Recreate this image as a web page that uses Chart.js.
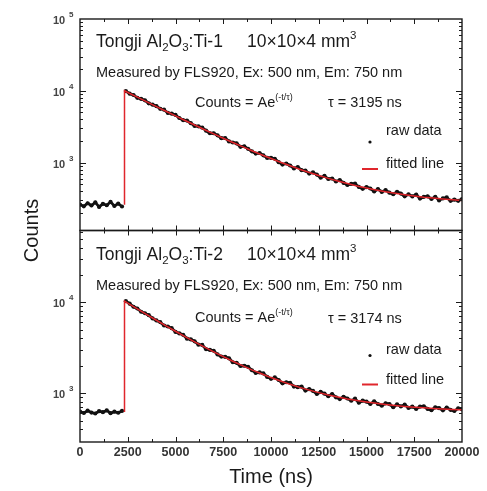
<!DOCTYPE html>
<html>
<head>
<meta charset="utf-8">
<script src="https://cdn.jsdelivr.net/npm/chart.js@4.4.1/dist/chart.umd.min.js"></script>
<style>
  html, body { margin: 0; padding: 0; background: #ffffff; }
  #decayChart { display: block; }
</style>
</head>
<body>
<canvas id="decayChart" width="487" height="491"></canvas>
<script>
const xTicks = [0, 1250, 2500, 3750, 5000, 6250, 7500, 8750, 10000, 11250, 12500, 13750, 15000, 16250, 17500, 18750, 20000];
const xLabelTicks = [0, 2500, 5000, 7500, 10000, 12500, 15000, 17500, 20000];

const yTopTicks = [200, 300, 400, 500, 600, 700, 800, 900, 1000, 2000, 3000, 4000, 5000, 6000, 7000, 8000, 9000,
  10000, 20000, 30000, 40000, 50000, 60000, 70000, 80000, 90000, 100000];
const yBotTicks = [300, 400, 500, 600, 700, 800, 900, 1000, 2000, 3000, 4000, 5000, 6000, 7000, 8000, 9000,
  10000, 20000, 30000, 40000, 50000, 60000];

const rawTimes = [0, 200, 400, 600, 800, 1000, 1200, 1400, 1600, 1800, 2000, 2200, 2300,
  2400, 2600, 2800, 3000, 3200, 3400, 3600, 3800, 4000, 4200, 4400, 4600, 4800, 5000, 5200, 5400, 5600, 5800,
  6000, 6200, 6400, 6600, 6800, 7000, 7200, 7400, 7600, 7800, 8000, 8200, 8400, 8600, 8800, 9000, 9200, 9400,
  9600, 9800, 10000, 10200, 10400, 10600, 10800, 11000, 11200, 11400, 11600, 11800, 12000, 12200, 12400, 12600,
  12800, 13000, 13200, 13400, 13600, 13800, 14000, 14200, 14400, 14600, 14800, 15000, 15200, 15400, 15600, 15800,
  16000, 16200, 16400, 16600, 16800, 17000, 17200, 17400, 17600, 17800, 18000, 18200, 18400, 18600, 18800, 19000,
  19200, 19400, 19600, 19800, 20000];

const rawTop = [262, 247, 273, 254, 281, 243, 268, 256, 285, 250, 270, 246, null,
  9945, 9127, 8763, 8002, 7723, 7380, 6710, 6414, 6132, 5633,
  5467, 4925, 4808, 4622, 4189, 3910, 3857, 3551, 3250, 3210,
  3077, 2794, 2573, 2570, 2407, 2198, 2208, 1980, 1913, 1858,
  1666, 1695, 1562, 1440, 1339, 1366, 1268, 1165, 1167, 1134,
  1019, 943, 976, 915, 832, 872, 788, 778, 707, 732,
  684, 619, 656, 594, 603, 548, 573, 524, 490, 507,
  512, 460, 434, 458, 438, 398, 430, 392, 415, 383,
  364, 394, 372, 341, 364, 340, 361, 317, 335, 341,
  314, 336, 299, 319, 329, 295, 307, 295, 312];

const rawBot = [628, 605, 641, 612, 597, 633, 618, 646, 602, 625, 609, 638, null,
  10310, 9672, 8940, 8559, 7874, 7582, 7228, 6657, 6319, 6061,
  5560, 5418, 5201, 4730, 4547, 4393, 3980, 3909, 3727, 3416,
  3394, 3052, 2992, 2932, 2670, 2531, 2512, 2422, 2189, 2157,
  1991, 2004, 1949, 1788, 1672, 1690, 1650, 1511, 1440, 1490,
  1397, 1283, 1319, 1302, 1183, 1165, 1183, 1067, 1108, 1058,
  980, 1032, 988, 927, 978, 899, 862, 912, 874, 825,
  869, 786, 827, 807, 760, 813, 760, 729, 774, 758,
  702, 753, 715, 747, 688, 711, 671, 711, 718, 671,
  650, 698, 684, 648, 695, 655, 636, 682, 664];

const fitTimes = [2330, 2330, 2500, 3000, 3500, 4000, 4500, 5000, 5500, 6000, 6500, 7000, 7500, 8000, 8500,
  9000, 9500, 10000, 10500, 11000, 11500, 12000, 12500, 13000, 13500, 14000, 14500, 15000, 15500, 16000,
  16500, 17000, 17500, 18000, 18500, 19000, 19500, 20000];

const fitTop = [260, 10010, 9503, 8165, 7020, 6041, 5203, 4487, 3875, 3351, 2903, 2520, 2193, 1913, 1673,
  1469, 1294, 1144, 1016, 906, 813, 733, 664, 606, 556, 513, 476, 445, 418, 395,
  376, 359, 345, 332, 322, 313, 305, 299];

const fitBot = [620, 10320, 9815, 8474, 7329, 6352, 5517, 4803, 4194, 3672, 3227, 2847, 2523, 2246, 2009,
  1806, 1634, 1485, 1359, 1251, 1159, 1081, 1014, 956, 907, 865, 830, 799, 773, 751,
  732, 715, 701, 690, 679, 671, 663, 657];

const panelNotes = [
  { axis: "yTop", sample: "Ti-1", tau: "3195" },
  { axis: "yBot", sample: "Ti-2", tau: "3174" },
];

const FONT = "'Liberation Sans', Arial, sans-serif";
const INK = "#1a1a1a";
const FIT_RED = "#e0262c";

function toPoints(times, values) {
  return times.map((t, i) => ({ x: t, y: values[i] }));
}

function isDecade(v) {
  const l = Math.log10(v);
  return Math.abs(l - Math.round(l)) < 1e-9;
}

function drawRich(ctx, x, y, parts) {
  let cx = x;
  parts.forEach((p) => {
    ctx.font = `${p.size}px ${FONT}`;
    ctx.fillText(p.t, cx, y + (p.dy || 0));
    cx += ctx.measureText(p.t).width;
  });
}

function rawDataset(values, axis) {
  return {
    data: toPoints(rawTimes, values),
    yAxisID: axis,
    borderColor: "#111111",
    borderWidth: 2.8,
    pointRadius: 2.1,
    pointBackgroundColor: "#111111",
    pointBorderWidth: 0,
    spanGaps: false,
    order: 2,
  };
}

function fitDataset(values, axis) {
  return {
    data: toPoints(fitTimes, values),
    yAxisID: axis,
    borderColor: FIT_RED,
    borderWidth: 1.5,
    pointRadius: 0,
    order: 1,
  };
}

function hiddenAxis(extra) {
  return Object.assign({
    grid: { display: false },
    border: { display: false },
    ticks: { display: false },
  }, extra);
}

const framePlugin = {
  id: "frameAndText",
  afterDatasetsDraw(chart) {
    const { ctx, chartArea } = chart;
    const xs = chart.scales.x;
    const left = chartArea.left;
    const right = chartArea.right;
    ctx.save();

    panelNotes.forEach((note, idx) => {
      const ys = chart.scales[note.axis];
      const top = ys.top;
      const bottom = ys.bottom;

      ctx.strokeStyle = INK;
      ctx.lineWidth = 1.4;
      ctx.strokeRect(left, top, right - left, bottom - top);

      ctx.lineWidth = 1;
      ys.ticks.forEach((tick) => {
        const py = Math.round(ys.getPixelForValue(tick.value)) + 0.5;
        if (py < top - 1 || py > bottom + 1) return;
        const decade = isDecade(tick.value);
        if (py > top + 1 && py < bottom - 1) {
          const len = decade ? 6 : 3;
          ctx.strokeStyle = INK;
          ctx.beginPath();
          ctx.moveTo(left, py);
          ctx.lineTo(left + len, py);
          ctx.moveTo(right, py);
          ctx.lineTo(right - len, py);
          ctx.stroke();
        }
        if (decade) {
          ctx.fillStyle = "#444444";
          ctx.textBaseline = "middle";
          ctx.textAlign = "left";
          ctx.font = `bold 11px ${FONT}`;
          ctx.fillText("10", 53, py + 1);
          ctx.font = `bold 8px ${FONT}`;
          ctx.fillText(String(Math.round(Math.log10(tick.value))), 69, py - 5);
        }
      });

      xs.ticks.forEach((tick) => {
        const px = Math.round(xs.getPixelForValue(tick.value)) + 0.5;
        if (px < left + 1 || px > right - 1) return;
        const len = tick.value % 2500 === 0 ? 5 : 3;
        ctx.beginPath();
        ctx.moveTo(px, top);
        ctx.lineTo(px, top + len);
        ctx.moveTo(px, bottom);
        ctx.lineTo(px, bottom - len);
        ctx.stroke();
      });

      const off = idx === 0 ? 0 : 1;
      ctx.fillStyle = INK;
      ctx.textAlign = "left";
      ctx.textBaseline = "alphabetic";
      drawRich(ctx, 96, top + 28 + off, [
        { t: "Tongji Al", size: 17.5 },
        { t: "2", size: 11.5, dy: 4 },
        { t: "O", size: 17.5 },
        { t: "3", size: 11.5, dy: 4 },
        { t: ":" + note.sample, size: 17.5 },
      ]);
      drawRich(ctx, 247, top + 28 + off, [
        { t: "10\u00d710\u00d74 mm", size: 17.5 },
        { t: "3", size: 11.5, dy: -8 },
      ]);
      drawRich(ctx, 96, top + 58 + off, [
        { t: "Measured by FLS920, Ex: 500 nm, Em: 750 nm", size: 14.5 },
      ]);
      drawRich(ctx, 195, top + 88 + off * 3, [
        { t: "Counts = Ae", size: 14.5 },
        { t: "(-t/\u03c4)", size: 9, dy: -7 },
      ]);
      drawRich(ctx, 328, top + 88 + off * 4, [
        { t: "\u03c4 = " + note.tau + " ns", size: 14.5 },
      ]);
      drawRich(ctx, 386, top + 116 + off * 7, [{ t: "raw data", size: 14.5 }]);
      drawRich(ctx, 386, top + 149 + off * 4, [{ t: "fitted line", size: 14.5 }]);

      ctx.fillStyle = "#111111";
      ctx.beginPath();
      ctx.arc(370, top + 123 + off * 2, 1.6, 0, Math.PI * 2);
      ctx.fill();

      ctx.strokeStyle = FIT_RED;
      ctx.lineWidth = 2;
      ctx.beginPath();
      ctx.moveTo(362, top + 150 + off * 4);
      ctx.lineTo(378, top + 150 + off * 4);
      ctx.stroke();
    });

    const bottomAxis = chart.scales.yBot;
    ctx.fillStyle = "#333333";
    ctx.font = `bold 12.5px ${FONT}`;
    ctx.textAlign = "center";
    ctx.textBaseline = "middle";
    xLabelTicks.forEach((v) => {
      ctx.fillText(String(v), xs.getPixelForValue(v), bottomAxis.bottom + 11);
    });

    ctx.fillStyle = INK;
    ctx.font = `20px ${FONT}`;
    ctx.textBaseline = "alphabetic";
    ctx.fillText("Time (ns)", (left + right) / 2, 483);

    ctx.save();
    ctx.translate(38, (chartArea.top + chartArea.bottom) / 2);
    ctx.rotate(-Math.PI / 2);
    ctx.fillText("Counts", 0, 0);
    ctx.restore();

    ctx.restore();
  },
};

const chart = new Chart(document.getElementById("decayChart"), {
  type: "line",
  data: {
    datasets: [
      fitDataset(fitTop, "yTop"),
      rawDataset(rawTop, "yTop"),
      fitDataset(fitBot, "yBot"),
      rawDataset(rawBot, "yBot"),
    ],
  },
  options: {
    responsive: false,
    animation: false,
    layout: { padding: { left: 80, right: 25, top: 19, bottom: 49 } },
    plugins: { legend: { display: false }, tooltip: { enabled: false } },
    scales: {
      x: hiddenAxis({
        type: "linear",
        min: 0,
        max: 20000,
        afterBuildTicks: (s) => { s.ticks = xTicks.map((v) => ({ value: v })); },
        afterFit: (s) => { s.height = 0; },
      }),
      yBot: hiddenAxis({
        type: "logarithmic",
        position: "left",
        stack: "panels",
        stackWeight: 1,
        min: 290,
        max: 61800,
        afterBuildTicks: (s) => { s.ticks = yBotTicks.map((v) => ({ value: v })); },
        afterFit: (s) => { s.width = 0; },
      }),
      yTop: hiddenAxis({
        type: "logarithmic",
        position: "left",
        stack: "panels",
        stackWeight: 1,
        min: 114,
        max: 100000,
        afterBuildTicks: (s) => { s.ticks = yTopTicks.map((v) => ({ value: v })); },
        afterFit: (s) => { s.width = 0; },
      }),
    },
  },
  plugins: [framePlugin],
});
</script>
</body>
</html>
